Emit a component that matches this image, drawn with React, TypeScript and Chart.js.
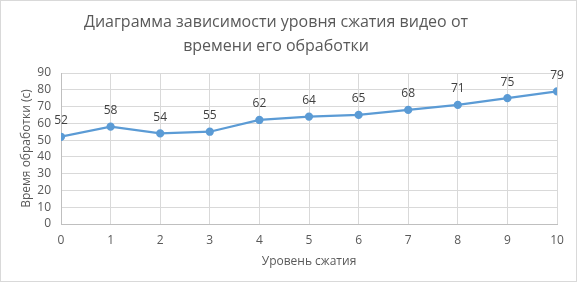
import React, { useEffect, useRef } from "react";
import { Chart, registerables } from "chart.js";

Chart.register(...registerables);

const levels = [0, 1, 2, 3, 4, 5, 6, 7, 8, 9, 10];
const times = [52, 58, 54, 55, 62, 64, 65, 68, 71, 75, 79];
const titleLines = ["Диаграмма зависимости уровня сжатия видео от", "времени его обработки"];
const xTitle = "Уровень сжатия";
const yTitle = "Время обработки (с)";

const TEXT = "#595959";
const GRID = "#D9D9D9";
const LINE = "#5B9BD5";
const FONT = "'Open Sans', 'Noto Sans', sans-serif";

const decor = {
  id: "decor",
  beforeDraw(chart: any) {
    const ctx = chart.ctx;
    ctx.save();
    ctx.fillStyle = "#ffffff";
    ctx.fillRect(0, 0, chart.width, chart.height);
    ctx.strokeStyle = GRID;
    ctx.lineWidth = 1;
    ctx.strokeRect(0.5, 0.5, 576, 281);
    ctx.restore();
  },
  afterDraw(chart: any) {
    const ctx = chart.ctx;
    ctx.save();
    ctx.fillStyle = TEXT;
    ctx.textAlign = "center";
    ctx.textBaseline = "middle";
    ctx.font = `16px ${FONT}`;
    ctx.fillText(titleLines[0], 276, 22);
    ctx.fillText(titleLines[1], 276, 46);
    ctx.fillStyle = "#404040";
    ctx.font = `12px ${FONT}`;
    const meta = chart.getDatasetMeta(0);
    meta.data.forEach((pt: any, i: number) => {
      ctx.fillText(String(times[i]), pt.x, pt.y - 16);
    });
    ctx.restore();
  },
};

export default function App() {
  const ref = useRef<HTMLCanvasElement>(null);
  useEffect(() => {
    document.body.style.margin = "0";
    const chart = new Chart(ref.current!, {
      type: "line",
      data: {
        datasets: [
          {
            data: levels.map((x, i) => ({ x, y: times[i] })),
            borderColor: LINE,
            backgroundColor: LINE,
            borderWidth: 2.25,
            pointRadius: 3,
            pointHoverRadius: 3,
            tension: 0,
          },
        ],
      },
      options: {
        animation: false,
        responsive: false,
        events: [],
        layout: { padding: { left: 0, right: 22, top: 73, bottom: 0 } },
        plugins: { legend: { display: false }, tooltip: { enabled: false } },
        scales: {
          x: {
            type: "linear",
            min: 0,
            max: 10,
            ticks: { stepSize: 1, autoSkip: false, color: TEXT, font: { family: FONT, size: 12 }, padding: 9 },
            grid: { color: GRID, drawTicks: false, lineWidth: 1 },
            border: { color: "#BFBFBF" },
            title: { display: true, text: xTitle, color: TEXT, font: { family: FONT, size: 12 }, padding: { top: 0, bottom: 15 } },
            afterFit(scale: any) {
              scale.height = 60;
            },
          },
          y: {
            min: 0,
            max: 90,
            ticks: { stepSize: 10, autoSkip: false, color: TEXT, font: { family: FONT, size: 12 }, padding: 10 },
            grid: { color: GRID, drawTicks: false, lineWidth: 1 },
            border: { color: "#BFBFBF" },
            title: { display: true, text: yTitle, color: TEXT, font: { family: FONT, size: 12 }, padding: { top: 19, bottom: 0 } },
            afterFit(scale: any) {
              scale.width = 61;
            },
          },
        },
      },
      plugins: [decor],
    });
    return () => chart.destroy();
  }, []);
  return (
    <div style={{ position: "absolute", left: 0, top: 0, width: 579, height: 284 }}>
      <canvas ref={ref} width={579} height={284} />
    </div>
  );
}
